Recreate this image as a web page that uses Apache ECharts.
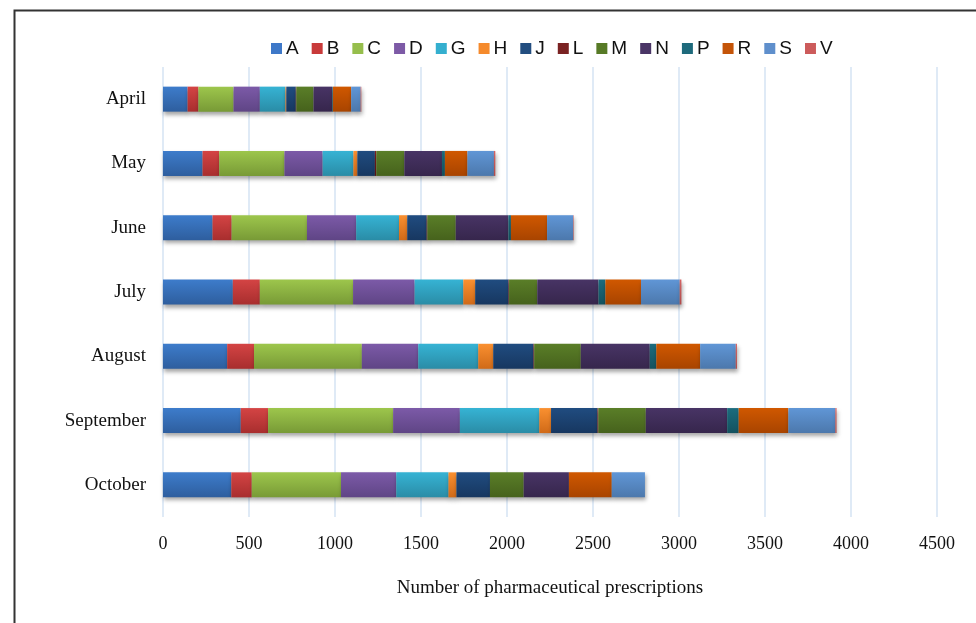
<!DOCTYPE html>
<html><head><meta charset="utf-8">
<script src="https://cdn.jsdelivr.net/npm/echarts@6/dist/echarts.min.js"></script>
<style>html,body{margin:0;padding:0;background:#fff}#c{width:976px;height:623px}</style>
</head><body><div id="c"></div>
<script>
const months = ['April','May','June','July','August','September','October'];
const seriesNames = ['A','B','C','D','G','H','J','L','M','N','P','R','S','V'];
const A = [143,230,288,406,373,452,397];
const B = [63,97,111,157,156,159,119];
const C = [204,379,438,542,627,727,519];
const D = [153,222,286,358,328,388,321];
const G = [149,179,249,283,349,462,304];
const H = [5,23,48,69,87,68,46];
const J = [55,102,113,194,234,270,195];
const L = [3,8,4,3,4,5,0];
const M = [100,163,165,164,271,276,196];
const N = [109,219,306,356,401,473,263];
const P = [4,17,15,40,38,67,0];
const R = [106,131,210,207,255,289,249];
const S = [55,154,152,225,207,273,193];
const V = [4,8,3,10,7,7,0];
const xTicks = [0,500,1000,1500,2000,2500,3000,3500,4000,4500];
const values = {A,B,C,D,G,H,J,L,M,N,P,R,S,V};
const colors = {
  A:['#3D7CCB','#2E5E9E'], B:['#D44444','#A82E2E'], C:['#9DC64C','#789A36'],
  D:['#7C5AA8','#5F4585'], G:['#36B3D4','#2A8CA6'], H:['#FA9030','#D06A18'],
  J:['#204C80','#173760'], L:['#7D2020','#5C1515'], M:['#5A7E28','#46621C'],
  N:['#483465','#36264C'], P:['#1C6C7E','#14525F'], R:['#D05800','#A84400'],
  S:['#6096D6','#4C78AC'], V:['#D46464','#B04A4A']
};
const legendColors = {A:'#3E78C8',B:'#C83A3A',C:'#96BE4C',D:'#7D5AA6',G:'#34AFCF',H:'#F58A2C',J:'#234E80',L:'#7A2222',M:'#577A26',N:'#4A3566',P:'#1E6A7C',R:'#C45408',S:'#5F8FCC',V:'#CC5B5B'};
const chart = echarts.init(document.getElementById('c'));
chart.setOption({
  animation:false,
  graphic:[{type:'rect',left:12,top:8,shape:{x:0,y:0,width:1000,height:700},style:{fill:'none',stroke:'#333',lineWidth:2},silent:true}],
  legend:{top:34,left:266,itemWidth:11,itemHeight:11,itemGap:13,icon:'rect',
    textStyle:{fontFamily:'Liberation Sans',fontSize:19,color:'#111',padding:[0,0,0,-1]},
    data:seriesNames.map(n=>({name:n,itemStyle:{color:legendColors[n]}}))},
  grid:{left:163,right:39,top:67,bottom:106},
  xAxis:{type:'value',min:0,max:4500,interval:500,
    name:'Number of pharmaceutical prescriptions',nameLocation:'middle',nameGap:62,
    nameTextStyle:{fontFamily:'Liberation Serif',fontSize:19,color:'#111'},
    axisLine:{show:false},axisTick:{show:false},
    axisLabel:{fontFamily:'Liberation Serif',fontSize:18,color:'#111',margin:18,
      formatter:v=>xTicks.includes(v)?String(v):''},
    splitLine:{lineStyle:{color:'#D5E3F3',width:1.5}}},
  yAxis:{type:'category',data:months,inverse:true,
    axisLine:{show:false},axisTick:{show:false},
    axisLabel:{fontFamily:'Liberation Serif',fontSize:19,color:'#111',margin:17}},
  series:seriesNames.map(n=>({
    name:n,type:'bar',stack:'t',barWidth:25,data:values[n],
    itemStyle:{color:new echarts.graphic.LinearGradient(0,0,0,1,[{offset:0,color:colors[n][0]},{offset:1,color:colors[n][1]}]),
      shadowColor:'rgba(0,0,0,0.35)',shadowBlur:4,shadowOffsetY:3,shadowOffsetX:1},
    emphasis:{disabled:true}
  }))
});
</script></body></html>
